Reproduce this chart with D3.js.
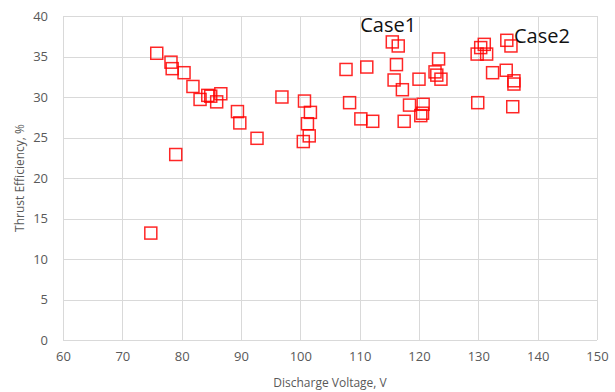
<!DOCTYPE html>
<html>
<head>
<meta charset="utf-8">
<script src="https://cdn.jsdelivr.net/npm/d3@7"></script>
<style>
  html, body { margin: 0; padding: 0; background: #fff; }
  svg { display: block; }
</style>
</head>
<body>
<svg id="chart" width="615" height="392"></svg>
<script>
// Discharge voltage (V) and thrust efficiency (%) for each test point
const voltage = [
  74.8, 75.8, 78.2, 78.4, 79.0, 80.4, 81.9, 83.1, 84.4, 84.9,
  85.9, 86.6, 89.4, 89.8, 92.7, 96.9, 100.7, 101.7, 101.2, 101.5,
  100.5, 107.7, 111.2, 108.3, 110.2, 112.2, 115.5, 116.5, 116.2, 115.8,
  117.2, 120.0, 118.4, 117.5, 120.7, 120.3, 120.6, 123.3, 122.7, 123.0,
  123.7, 130.4, 131.0, 129.8, 131.4, 134.8, 135.5, 132.4, 134.7, 136.0,
  136.0, 129.9, 135.8
];
const efficiency = [
  13.2, 35.4, 34.3, 33.5, 22.9, 33.0, 31.3, 29.7, 30.2, 30.1,
  29.4, 30.4, 28.2, 26.8, 24.9, 30.0, 29.5, 28.1, 26.7, 25.2,
  24.5, 33.4, 33.7, 29.3, 27.3, 27.0, 36.8, 36.3, 34.0, 32.1,
  30.9, 32.2, 29.0, 27.0, 29.1, 27.7, 28.0, 34.7, 33.1, 32.7,
  32.2, 36.1, 36.5, 35.3, 35.3, 37.0, 36.3, 33.0, 33.3, 32.0,
  31.6, 29.3, 28.8
];
const xTicks = [60, 70, 80, 90, 100, 110, 120, 130, 140, 150];
const yTicks = [0, 5, 10, 15, 20, 25, 30, 35, 40];
const annotations = [
  { label: "Case1", v: 110.1, e: 38.0 },
  { label: "Case2", v: 136.0, e: 36.7 }
];

const svg = d3.select("#chart");
const plotLeft = 63, plotRight = 597, plotTop = 16, plotBottom = 340;

const x = d3.scaleLinear().domain([60, 150]).range([plotLeft, plotRight]);
const y = d3.scaleLinear().domain([0, 40]).range([plotBottom, plotTop]);

const gridColor = "#d9d9d9";
const textColor = "#595959";
const font = "'Open Sans', 'Liberation Sans', sans-serif";

// gridlines
svg.append("g")
  .selectAll("line")
  .data(yTicks)
  .join("line")
  .attr("x1", plotLeft).attr("x2", plotRight)
  .attr("y1", d => Math.round(y(d)) + 0.5)
  .attr("y2", d => Math.round(y(d)) + 0.5)
  .attr("stroke", gridColor).attr("stroke-width", 1);

svg.append("g")
  .selectAll("line")
  .data(xTicks)
  .join("line")
  .attr("y1", plotTop).attr("y2", plotBottom)
  .attr("x1", d => Math.round(x(d)) + 0.5)
  .attr("x2", d => Math.round(x(d)) + 0.5)
  .attr("stroke", gridColor).attr("stroke-width", 1);

// axes (labels only)
const xAxis = svg.append("g")
  .attr("transform", `translate(0,${plotBottom})`)
  .call(d3.axisBottom(x).tickValues(xTicks).tickSize(0).tickPadding(12).tickFormat(d3.format("d")));
const yAxis = svg.append("g")
  .attr("transform", `translate(${plotLeft},0)`)
  .call(d3.axisLeft(y).tickValues(yTicks).tickSize(0).tickPadding(15).tickFormat(d3.format("d")));

[xAxis, yAxis].forEach(g => {
  g.select(".domain").remove();
  g.selectAll("text")
    .attr("fill", textColor)
    .style("font-family", font)
    .style("font-size", "13px");
});

// axis titles
svg.append("text")
  .attr("x", (plotLeft + plotRight) / 2)
  .attr("y", 387)
  .attr("text-anchor", "middle")
  .attr("fill", textColor)
  .style("font-family", font)
  .style("font-size", "12px")
  .text("Discharge Voltage, V");

svg.append("text")
  .attr("transform", `translate(24,${(plotTop + plotBottom) / 2}) rotate(-90)`)
  .attr("text-anchor", "middle")
  .attr("fill", textColor)
  .style("font-family", font)
  .style("font-size", "12px")
  .text("Thrust Efficiency, %");

// markers: open red squares
const size = 12;
const points = voltage.map((v, i) => ({ v, e: efficiency[i] }));
svg.append("g")
  .selectAll("rect")
  .data(points)
  .join("rect")
  .attr("x", d => x(d.v) - size / 2)
  .attr("y", d => y(d.e) - size / 2)
  .attr("width", size)
  .attr("height", size)
  .attr("fill", "none")
  .attr("stroke", "#ff0000")
  .attr("stroke-opacity", 0.85)
  .attr("stroke-width", 1.5);

// case annotations
svg.append("g")
  .selectAll("text")
  .data(annotations)
  .join("text")
  .attr("x", d => x(d.v))
  .attr("y", d => y(d.e))
  .attr("fill", "#111")
  .style("font-family", font)
  .style("font-size", "20px")
  .text(d => d.label);
</script>
</body>
</html>
